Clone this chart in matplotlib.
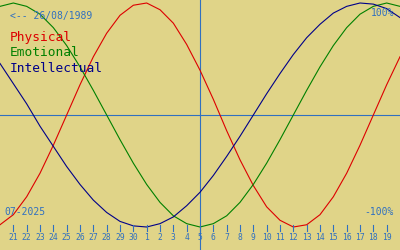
import matplotlib
matplotlib.use('Agg')
import matplotlib.pyplot as plt
import numpy as np

# biorhythm values (%) for 20 June .. 20 July 2025
day_labels = ['20', '21', '22', '23', '24', '25', '26', '27', '28', '29', '30',
              '1', '2', '3', '4', '5', '6', '7', '8', '9', '10',
              '11', '12', '13', '14', '15', '16', '17', '18', '19', '20']
physical = [-98, -89, -73, -52, -27, 0, 27, 52, 73, 89, 98,
            100, 94, 82, 63, 40, 14, -14, -40, -63, -82,
            -94, -100, -98, -89, -73, -52, -27, 0, 27, 52]
emotional = [97, 100, 97, 90, 78, 62, 43, 22, 0, -22, -43,
             -62, -78, -90, -97, -100, -97, -90, -78, -62, -43,
             -22, 0, 22, 43, 62, 78, 90, 97, 100, 97]
intellectual = [46, 28, 10, -10, -28, -46, -62, -76, -87, -95, -99,
                -100, -97, -91, -81, -69, -54, -37, -19, 0, 19,
                37, 54, 69, 81, 91, 97, 100, 99, 95, 87]

bg = '#e0d488'
blue = '#3070c0'
red = '#dd0000'
green = '#008000'
navy = '#000088'

fig = plt.figure(figsize=(4, 2.5), dpi=100, facecolor=bg)
ax = fig.add_axes([0, 0, 1, 1])
ax.set_facecolor(bg)
ax.set_axis_off()

x = np.arange(len(day_labels))
ax.set_xlim(0, 30)
# +100% sits at pixel ~3, 0 at pixel 115, -100% at pixel ~227
ax.set_ylim(-135 / 1.12, 115 / 1.12)

ax.axhline(0, color=blue, lw=0.8)
ax.axvline(15, color=blue, lw=0.8)

ax.plot(x, physical, color=red, lw=0.8)
ax.plot(x, emotional, color=green, lw=0.8)
ax.plot(x, intellectual, color=navy, lw=0.8)

# day ticks along the bottom
tr = ax.get_xaxis_transform()
for i in range(1, 30):
    ax.plot([i, i], [1 - 224.5 / 250, 1 - 230.5 / 250], color=blue, lw=0.8, transform=tr)
    ax.text(i, 1 - 238 / 250, day_labels[i], color=blue, fontsize=5.8,
            family='DejaVu Sans Mono', ha='center', va='center', transform=tr)

mono = 'DejaVu Sans Mono'
fig.text(10 / 400, 1 - 16 / 250, '<-- 26/08/1989', color=blue, fontsize=7, family=mono, va='center')
fig.text(10 / 400, 1 - 38 / 250, 'Physical', color=red, fontsize=9.3, family=mono, va='center')
fig.text(10 / 400, 1 - 53 / 250, 'Emotional', color=green, fontsize=9.3, family=mono, va='center')
fig.text(10 / 400, 1 - 68 / 250, 'Intellectual', color=navy, fontsize=9.3, family=mono, va='center')
fig.text(394 / 400, 1 - 12.5 / 250, '100%', color=blue, fontsize=7, family=mono, va='center', ha='right')
fig.text(394 / 400, 1 - 212 / 250, '-100%', color=blue, fontsize=7, family=mono, va='center', ha='right')
fig.text(4 / 400, 1 - 212 / 250, '07-2025', color=blue, fontsize=7, family=mono, va='center')

fig.savefig('out.png', dpi=100, facecolor=bg)
